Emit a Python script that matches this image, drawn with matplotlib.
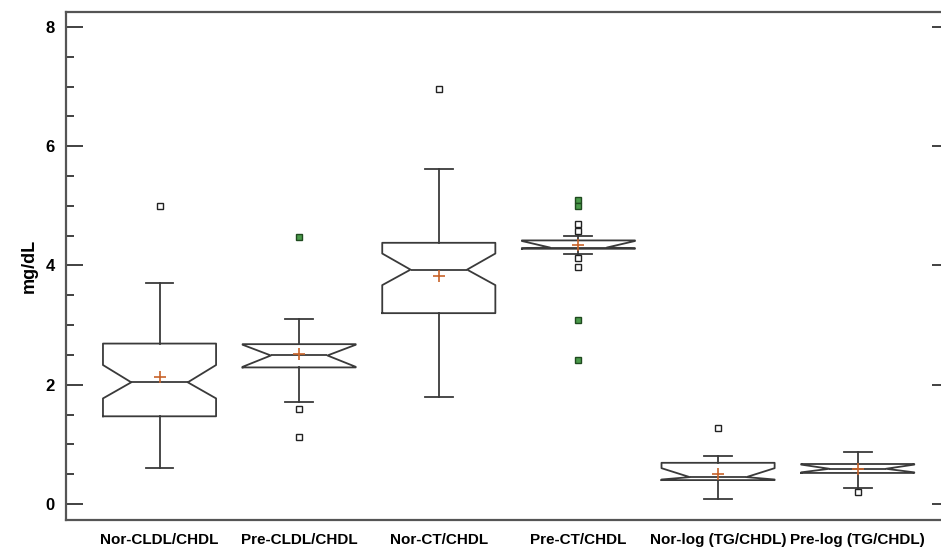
import matplotlib
matplotlib.use("Agg")
import matplotlib.pyplot as plt
from matplotlib.ticker import MultipleLocator

# Box statistics
labels = ["Nor-CLDL/CHDL", "Pre-CLDL/CHDL", "Nor-CT/CHDL",
          "Pre-CT/CHDL", "Nor-log (TG/CHDL)", "Pre-log (TG/CHDL)"]
q1 = [1.47, 2.29, 3.20, 4.28, 0.40, 0.52]
q3 = [2.69, 2.68, 4.38, 4.42, 0.69, 0.67]
medians = [2.04, 2.49, 3.93, 4.30, 0.45, 0.59]
means = [2.13, 2.52, 3.83, 4.35, 0.50, 0.58]
whislo = [0.60, 1.71, 1.79, 4.20, 0.09, 0.27]
whishi = [3.70, 3.10, 5.61, 4.50, 0.80, 0.87]
cilo = [1.77, 2.30, 3.67, 4.29, 0.41, 0.53]
cihi = [2.33, 2.67, 4.20, 4.41, 0.60, 0.66]
outliers = [[5.0], [1.6, 1.12], [6.96], [4.70, 4.58, 4.12, 3.98], [1.27], [0.2]]
far_outliers = [[], [4.47], [], [5.09, 5.0, 3.08, 2.41], [], []]

BOX_COLOR = "#3a3a3a"
MEAN_COLOR = "#c8642a"

stats = []
for i in range(len(labels)):
    stats.append({
        "label": labels[i], "q1": q1[i], "q3": q3[i], "med": medians[i],
        "mean": means[i], "whislo": whislo[i], "whishi": whishi[i],
        "cilo": cilo[i], "cihi": cihi[i], "fliers": outliers[i],
    })

fig = plt.figure(figsize=(9.41, 5.48), dpi=100)
# right edge sits just past the image border, as in the reference
ax = fig.add_axes([0.0701, 0.051, 0.9319, 0.927])

positions = list(range(1, len(labels) + 1))
line = dict(color=BOX_COLOR, linewidth=1.3)
ax.bxp(stats, positions=positions, widths=0.81, capwidths=0.2, shownotches=True,
       showmeans=True, boxprops=line, whiskerprops=line, capprops=line,
       medianprops=line,
       meanprops=dict(marker="+", markeredgecolor=MEAN_COLOR, markersize=9,
                      markeredgewidth=1.2),
       flierprops=dict(marker="s", markerfacecolor="white", markeredgecolor="#222222",
                       markersize=4, markeredgewidth=1.0))

for pos, vals in zip(positions, far_outliers):
    if vals:
        ax.plot([pos] * len(vals), vals, "s", markerfacecolor="#4a9a4a",
                markeredgecolor="#1f4a1f", markersize=4, markeredgewidth=1.0,
                linestyle="none")

ax.set_xlim(0.33, 6.61)
ax.set_ylim(-0.27, 8.25)
ax.yaxis.set_major_locator(MultipleLocator(2))
ax.yaxis.set_minor_locator(MultipleLocator(0.5))

font = ["Liberation Sans Narrow", "Liberation Sans", "DejaVu Sans"]
ax.set_xticks(positions)
ax.set_xticklabels(labels, fontsize=11, fontweight="bold", family=font)
for t in ax.get_yticklabels():
    t.set_fontsize(12)
    t.set_fontweight("bold")
    t.set_family(font)
ax.tick_params(axis="x", length=0, pad=9)
ax.tick_params(axis="y", which="major", direction="in", length=12, width=1.3,
               pad=8, right=True, colors="#333333", labelcolor="black")
ax.tick_params(axis="y", which="minor", direction="in", length=6, width=1.3,
               right=False, colors="#333333")
# shorter ticks on the right side
for tick in ax.yaxis.get_major_ticks():
    tick.tick2line.set_markersize(8)
ax.set_ylabel("mg/dL", fontsize=13, fontweight="bold", family=font, labelpad=6)

for side in ["left", "top", "bottom"]:
    ax.spines[side].set_color("#555555")
    ax.spines[side].set_linewidth(1.6)
ax.spines["right"].set_visible(False)

fig.savefig("out.png", dpi=100)
